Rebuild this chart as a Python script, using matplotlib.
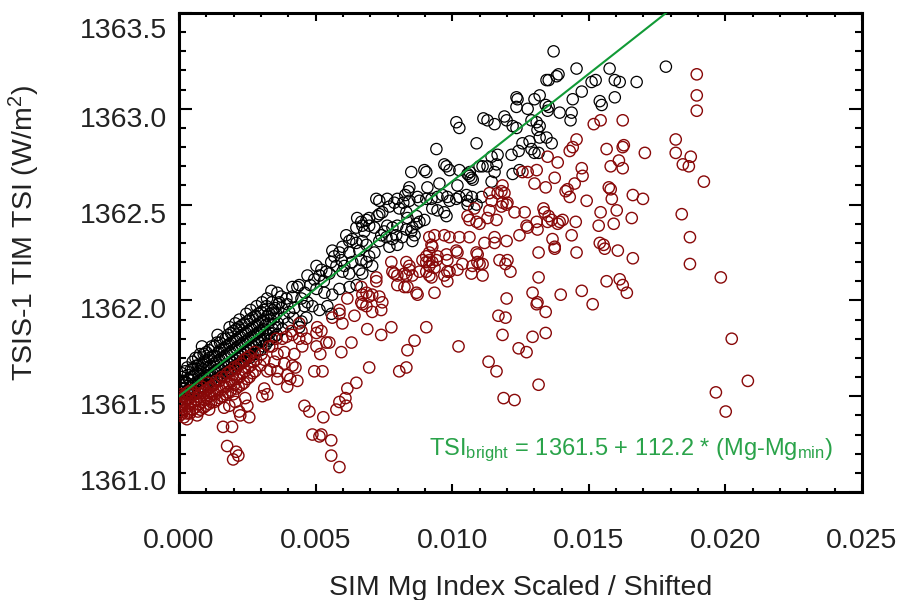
import numpy as np
import matplotlib.pyplot as plt
from matplotlib.ticker import MultipleLocator, FormatStrFormatter
from matplotlib.transforms import ScaledTranslation

plt.rcParams['font.family'] = ['Liberation Sans', 'DejaVu Sans']
plt.rcParams['mathtext.fontset'] = 'custom'
plt.rcParams['mathtext.rm'] = 'Liberation Sans'
plt.rcParams['mathtext.it'] = 'Liberation Sans:italic'

# fit line from the annotation
fit_intercept = 1361.5
fit_slope = 112.2

# (Mg index, TSI) pairs
# black points, sparse upper part
black_upper = np.array([
    [0.01371, 1363.30], [0.01455, 1363.21], [0.01389, 1363.18], [0.01382, 1363.17],
    [0.01353, 1363.15], [0.01345, 1363.15], [0.01576, 1363.21], [0.01782, 1363.22],
    [0.01510, 1363.14], [0.01525, 1363.15], [0.01595, 1363.15], [0.01613, 1363.14],
    [0.01675, 1363.14], [0.01235, 1363.06], [0.01239, 1363.05], [0.01235, 1363.01],
    [0.01301, 1363.05], [0.01320, 1363.07], [0.01276, 1363.00], [0.01342, 1363.02],
    [0.01349, 1362.99], [0.01353, 1363.01], [0.01393, 1362.98], [0.01437, 1362.98],
    [0.01433, 1362.94], [0.01441, 1363.05], [0.01474, 1363.09], [0.01540, 1363.04],
    [0.01547, 1363.02], [0.01595, 1363.06], [0.01114, 1362.95], [0.01129, 1362.94],
    [0.01155, 1362.92], [0.01191, 1362.96], [0.01199, 1362.94], [0.01221, 1362.91],
    [0.01235, 1362.90], [0.01290, 1362.94], [0.01309, 1362.93], [0.01320, 1362.91],
    [0.01312, 1362.89], [0.01320, 1362.85], [0.01089, 1362.82], [0.01217, 1362.76],
    [0.01243, 1362.78], [0.01257, 1362.82], [0.01283, 1362.83], [0.01290, 1362.79],
    [0.01301, 1362.77], [0.01316, 1362.77], [0.01364, 1362.82], [0.01345, 1362.85],
    [0.01111, 1362.70], [0.01100, 1362.70], [0.01129, 1362.70], [0.01162, 1362.71],
    [0.01166, 1362.76], [0.01144, 1362.75], [0.01221, 1362.66], [0.01246, 1362.68],
    [0.01155, 1362.67], [0.01144, 1362.62], [0.01108, 1362.54], [0.01072, 1362.54],
    [0.01075, 1362.63], [0.01064, 1362.67],
])

# black points, middle part
black_middle = np.array([
    [0.01015, 1362.93], [0.01026, 1362.90], [0.00942, 1362.79], [0.00971, 1362.71],
    [0.00979, 1362.70], [0.00990, 1362.68], [0.00850, 1362.67], [0.00898, 1362.68],
    [0.00905, 1362.67], [0.01026, 1362.68], [0.01056, 1362.66], [0.01070, 1362.64],
    [0.01063, 1362.65], [0.00953, 1362.61], [0.00909, 1362.59], [0.01019, 1362.60],
    [0.00843, 1362.59], [0.00839, 1362.57], [0.00828, 1362.55], [0.00843, 1362.52],
    [0.00799, 1362.53], [0.00821, 1362.51], [0.00873, 1362.54], [0.00880, 1362.52],
    [0.00722, 1362.53], [0.00733, 1362.52], [0.00762, 1362.53], [0.00770, 1362.49],
    [0.00788, 1362.51], [0.00806, 1362.48], [0.00905, 1362.53], [0.00924, 1362.53],
    [0.00946, 1362.54], [0.00964, 1362.55], [0.00982, 1362.54], [0.00990, 1362.52],
    [0.01015, 1362.53], [0.01026, 1362.54], [0.01052, 1362.55], [0.01056, 1362.52],
    [0.01056, 1362.50], [0.01089, 1362.50], [0.00927, 1362.48], [0.00946, 1362.47],
    [0.00979, 1362.44], [0.00971, 1362.46], [0.00733, 1362.45], [0.00726, 1362.44],
    [0.00744, 1362.46], [0.00832, 1362.46], [0.00836, 1362.43], [0.00869, 1362.44],
    [0.00880, 1362.41], [0.00898, 1362.42], [0.00869, 1362.40],
    [0.00652, 1362.43], [0.00667, 1362.41], [0.00686, 1362.42], [0.00696, 1362.43],
    [0.00671, 1362.39], [0.00649, 1362.38], [0.00678, 1362.36], [0.00696, 1362.39],
    [0.00715, 1362.38], [0.00751, 1362.36], [0.00762, 1362.39], [0.00781, 1362.38],
    [0.00799, 1362.39], [0.00832, 1362.37], [0.00850, 1362.36], [0.00854, 1362.38],
    [0.00862, 1362.34], [0.00854, 1362.31], [0.00817, 1362.33], [0.00799, 1362.29],
    [0.00781, 1362.32], [0.00770, 1362.28], [0.00733, 1362.31], [0.00740, 1362.34],
    [0.00795, 1362.34], [0.00759, 1362.33],
    [0.00612, 1362.34], [0.00623, 1362.31], [0.00634, 1362.32], [0.00649, 1362.30],
    [0.00671, 1362.31], [0.00686, 1362.29], [0.00660, 1362.26], [0.00623, 1362.25],
    [0.00598, 1362.28], [0.00587, 1362.25], [0.00561, 1362.26], [0.00568, 1362.23],
    [0.00594, 1362.21], [0.00605, 1362.18], [0.00634, 1362.20], [0.00667, 1362.21],
    [0.00686, 1362.20], [0.00696, 1362.23], [0.00715, 1362.25], [0.00707, 1362.18],
    [0.00660, 1362.16], [0.00671, 1362.14], [0.00623, 1362.14], [0.00598, 1362.15],
    [0.00576, 1362.18], [0.00557, 1362.20],
    [0.00503, 1362.18], [0.00521, 1362.16], [0.00539, 1362.15], [0.00514, 1362.13],
    [0.00495, 1362.11], [0.00415, 1362.07], [0.00440, 1362.08], [0.00433, 1362.07],
    [0.00503, 1362.06], [0.00532, 1362.04], [0.00561, 1362.03], [0.00587, 1362.06],
    [0.00624, 1362.07], [0.00650, 1362.08], [0.00338, 1362.05], [0.00360, 1362.04],
    [0.00374, 1362.02], [0.00393, 1362.01], [0.00367, 1361.99], [0.00415, 1362.02],
    [0.00448, 1362.01], [0.00470, 1361.99], [0.00459, 1361.97], [0.00488, 1361.97],
    [0.00514, 1361.95], [0.00543, 1361.97], [0.00558, 1361.93], [0.00466, 1361.91],
    [0.00448, 1361.89], [0.00440, 1361.86],
])

# black points, dense band near the origin
black_core = np.array([
    [0.00003, 1361.48], [0.00006, 1361.52], [0.00004, 1361.56], [0.00008, 1361.60],
    [0.00018, 1361.50], [0.00021, 1361.54], [0.00016, 1361.58], [0.00022, 1361.63],
    [0.00038, 1361.51], [0.00042, 1361.55], [0.00036, 1361.59], [0.00044, 1361.64],
    [0.00058, 1361.53], [0.00062, 1361.57], [0.00055, 1361.61], [0.00064, 1361.66],
    [0.00060, 1361.70], [0.00078, 1361.55], [0.00082, 1361.59], [0.00076, 1361.63],
    [0.00085, 1361.67], [0.00077, 1361.72], [0.00084, 1361.76], [0.00098, 1361.56],
    [0.00103, 1361.61], [0.00097, 1361.65], [0.00105, 1361.69], [0.00100, 1361.73],
    [0.00118, 1361.58], [0.00122, 1361.62], [0.00116, 1361.66], [0.00124, 1361.71],
    [0.00119, 1361.76], [0.00138, 1361.59], [0.00142, 1361.64], [0.00136, 1361.68],
    [0.00144, 1361.73], [0.00139, 1361.78], [0.00141, 1361.82], [0.00158, 1361.61],
    [0.00163, 1361.66], [0.00156, 1361.70], [0.00164, 1361.75], [0.00160, 1361.80],
    [0.00178, 1361.63], [0.00182, 1361.67], [0.00176, 1361.72], [0.00184, 1361.77],
    [0.00180, 1361.82], [0.00185, 1361.86], [0.00198, 1361.65], [0.00203, 1361.69],
    [0.00196, 1361.74], [0.00204, 1361.79], [0.00200, 1361.84], [0.00206, 1361.88],
    [0.00218, 1361.67], [0.00222, 1361.71], [0.00216, 1361.76], [0.00224, 1361.81],
    [0.00219, 1361.86], [0.00221, 1361.90], [0.00238, 1361.68], [0.00243, 1361.73],
    [0.00236, 1361.78], [0.00244, 1361.83], [0.00240, 1361.88], [0.00246, 1361.93],
    [0.00258, 1361.70], [0.00262, 1361.75], [0.00256, 1361.80], [0.00264, 1361.85],
    [0.00259, 1361.90], [0.00262, 1361.95], [0.00278, 1361.72], [0.00283, 1361.77],
    [0.00276, 1361.82], [0.00285, 1361.87], [0.00280, 1361.92], [0.00284, 1361.97],
    [0.00298, 1361.74], [0.00302, 1361.79], [0.00296, 1361.84], [0.00305, 1361.89],
    [0.00300, 1361.94], [0.00304, 1361.99], [0.00318, 1361.77], [0.00323, 1361.82],
    [0.00316, 1361.87], [0.00324, 1361.92], [0.00320, 1361.97], [0.00322, 1362.01],
    [0.00338, 1361.80], [0.00343, 1361.85], [0.00336, 1361.90], [0.00344, 1361.95],
    [0.00340, 1361.99], [0.00358, 1361.82], [0.00362, 1361.88], [0.00356, 1361.93],
    [0.00364, 1361.98], [0.00378, 1361.85], [0.00383, 1361.91], [0.00376, 1361.96],
    [0.00398, 1361.88], [0.00403, 1361.94], [0.00396, 1361.98], [0.00418, 1361.91],
    [0.00422, 1361.96], [0.00460, 1362.04], [0.00480, 1362.08], [0.00470, 1362.13],
    [0.00530, 1362.10], [0.00550, 1362.14],
])

# more black points filling the dense band
black_fill = np.array([
    [0.00011, 1361.50], [0.00009, 1361.54], [0.00012, 1361.58], [0.00010, 1361.62],
    [0.00029, 1361.49], [0.00031, 1361.53], [0.00028, 1361.57], [0.00032, 1361.61],
    [0.00030, 1361.65], [0.00049, 1361.52], [0.00052, 1361.56], [0.00048, 1361.60],
    [0.00051, 1361.64], [0.00050, 1361.68], [0.00069, 1361.54], [0.00072, 1361.58],
    [0.00068, 1361.62], [0.00071, 1361.66], [0.00070, 1361.70], [0.00089, 1361.55],
    [0.00092, 1361.60], [0.00088, 1361.64], [0.00091, 1361.68], [0.00090, 1361.72],
    [0.00109, 1361.57], [0.00112, 1361.61], [0.00108, 1361.65], [0.00111, 1361.70],
    [0.00110, 1361.74], [0.00129, 1361.58], [0.00132, 1361.63], [0.00128, 1361.67],
    [0.00131, 1361.71], [0.00130, 1361.76], [0.00149, 1361.60], [0.00152, 1361.64],
    [0.00148, 1361.69], [0.00151, 1361.74], [0.00150, 1361.78], [0.00169, 1361.62],
    [0.00172, 1361.66], [0.00168, 1361.71], [0.00171, 1361.76], [0.00170, 1361.80],
    [0.00189, 1361.64], [0.00192, 1361.68], [0.00188, 1361.73], [0.00191, 1361.78],
    [0.00190, 1361.83], [0.00209, 1361.66], [0.00212, 1361.70], [0.00208, 1361.75],
    [0.00211, 1361.80], [0.00210, 1361.85], [0.00229, 1361.68], [0.00232, 1361.72],
    [0.00228, 1361.77], [0.00231, 1361.82], [0.00230, 1361.87], [0.00249, 1361.70],
    [0.00252, 1361.74], [0.00248, 1361.79], [0.00251, 1361.84], [0.00250, 1361.89],
    [0.00269, 1361.72], [0.00272, 1361.76], [0.00268, 1361.81], [0.00271, 1361.86],
    [0.00270, 1361.91], [0.00289, 1361.74], [0.00292, 1361.78], [0.00288, 1361.83],
    [0.00291, 1361.88], [0.00290, 1361.93], [0.00309, 1361.76], [0.00312, 1361.80],
    [0.00308, 1361.85], [0.00311, 1361.90], [0.00310, 1361.95], [0.00329, 1361.79],
    [0.00332, 1361.83], [0.00328, 1361.88], [0.00331, 1361.93], [0.00349, 1361.81],
    [0.00352, 1361.86], [0.00348, 1361.91], [0.00351, 1361.96],
])

# dark red points, scattered
red_outer = np.array([
    [0.01895, 1363.18], [0.01895, 1363.07], [0.01895, 1362.99], [0.01818, 1362.84],
    [0.01818, 1362.77], [0.01873, 1362.75], [0.01844, 1362.71], [0.01866, 1362.70],
    [0.01921, 1362.62], [0.01840, 1362.45], [0.01870, 1362.33], [0.01870, 1362.19],
    [0.01983, 1362.12], [0.02023, 1361.80], [0.02082, 1361.58], [0.01965, 1361.52],
    [0.02001, 1361.42],
    [0.01089, 1362.25], [0.01093, 1362.24], [0.01074, 1362.18], [0.01100, 1362.19],
    [0.01111, 1362.19], [0.01111, 1362.13], [0.01173, 1362.21], [0.01202, 1362.21],
    [0.01195, 1362.19], [0.01213, 1362.15], [0.01316, 1362.25], [0.01375, 1362.27],
    [0.01455, 1362.25], [0.01558, 1362.27], [0.01606, 1362.26], [0.01661, 1362.22],
    [0.01316, 1362.12], [0.01199, 1362.01], [0.01294, 1362.04], [0.01397, 1362.03],
    [0.01474, 1362.05], [0.01565, 1362.10], [0.01613, 1362.11], [0.01624, 1362.08],
    [0.01639, 1362.04], [0.01514, 1361.98], [0.01309, 1361.98], [0.01312, 1361.99],
    [0.01342, 1361.94], [0.01169, 1361.92], [0.01195, 1361.91], [0.01184, 1361.82],
    [0.01294, 1361.81], [0.01342, 1361.83], [0.01243, 1361.75], [0.01272, 1361.73],
    [0.01133, 1361.68], [0.01162, 1361.63], [0.01316, 1361.56], [0.01188, 1361.49],
    [0.01228, 1361.48],
    [0.01518, 1362.92], [0.01543, 1362.94], [0.01624, 1362.94], [0.01455, 1362.84],
    [0.01441, 1362.80], [0.01430, 1362.78], [0.01565, 1362.79], [0.01624, 1362.80],
    [0.01628, 1362.81], [0.01705, 1362.77], [0.01349, 1362.75], [0.01386, 1362.72],
    [0.01610, 1362.73], [0.01580, 1362.70], [0.01624, 1362.69], [0.01474, 1362.69],
    [0.01477, 1362.65], [0.01375, 1362.64], [0.01342, 1362.59], [0.01257, 1362.67],
    [0.01309, 1362.68], [0.01301, 1362.61], [0.01276, 1362.67], [0.01184, 1362.60],
    [0.01180, 1362.57], [0.01191, 1362.56], [0.01166, 1362.56], [0.01136, 1362.56],
    [0.01144, 1362.52], [0.01136, 1362.47], [0.01129, 1362.43], [0.01162, 1362.42],
    [0.01184, 1362.51], [0.01199, 1362.50], [0.01202, 1362.51], [0.01180, 1362.49],
    [0.01081, 1362.48], [0.01063, 1362.42], [0.01100, 1362.40], [0.01228, 1362.46],
    [0.01265, 1362.46], [0.01334, 1362.48], [0.01338, 1362.46], [0.01353, 1362.44],
    [0.01415, 1362.57], [0.01422, 1362.58], [0.01430, 1362.54], [0.01448, 1362.61],
    [0.01492, 1362.52], [0.01573, 1362.59], [0.01580, 1362.58], [0.01584, 1362.53],
    [0.01661, 1362.55], [0.01698, 1362.53], [0.01543, 1362.46], [0.01602, 1362.47],
    [0.01591, 1362.40], [0.01657, 1362.43], [0.01272, 1362.39], [0.01276, 1362.38],
    [0.01309, 1362.41], [0.01312, 1362.37], [0.01349, 1362.41], [0.01386, 1362.40],
    [0.01393, 1362.41], [0.01404, 1362.42], [0.01364, 1362.42], [0.01452, 1362.41],
    [0.01246, 1362.34], [0.01199, 1362.31], [0.01155, 1362.33], [0.01118, 1362.30],
    [0.01155, 1362.30], [0.01536, 1362.39], [0.01437, 1362.34], [0.01367, 1362.32],
    [0.01375, 1362.28], [0.01540, 1362.30], [0.01554, 1362.29],
    [0.01056, 1362.44], [0.01089, 1362.41], [0.00935, 1362.34], [0.00916, 1362.33],
    [0.00971, 1362.34], [0.00990, 1362.33], [0.01026, 1362.33], [0.01063, 1362.33],
    [0.01019, 1362.25], [0.01015, 1362.26], [0.00924, 1362.29], [0.00927, 1362.28],
    [0.00916, 1362.25], [0.00905, 1362.23], [0.00916, 1362.21], [0.00927, 1362.20],
    [0.00942, 1362.21], [0.00905, 1362.20], [0.00891, 1362.21], [0.00916, 1362.18],
    [0.00935, 1362.17], [0.00946, 1362.23], [0.00979, 1362.24], [0.00982, 1362.21],
    [0.00990, 1362.15], [0.00971, 1362.13], [0.01037, 1362.19], [0.01070, 1362.14],
    [0.01092, 1362.20], [0.00832, 1362.20], [0.00843, 1362.18], [0.00880, 1362.15],
    [0.00854, 1362.13], [0.00832, 1362.13], [0.00777, 1362.20], [0.00781, 1362.15],
    [0.00788, 1362.14], [0.00799, 1362.13], [0.00722, 1362.12],
    [0.00825, 1362.14], [0.00843, 1362.16], [0.00905, 1362.15], [0.00916, 1362.13],
    [0.00924, 1362.12], [0.00982, 1362.15], [0.00982, 1362.10], [0.01019, 1362.16],
    [0.00722, 1362.10], [0.00799, 1362.08], [0.00825, 1362.07], [0.00836, 1362.07],
    [0.00869, 1362.04], [0.00873, 1362.03], [0.00935, 1362.04], [0.00667, 1362.07],
    [0.00671, 1362.03], [0.00686, 1362.04], [0.00696, 1362.02], [0.00707, 1362.03],
    [0.00733, 1362.02], [0.00744, 1361.99], [0.00740, 1361.95], [0.00707, 1361.94],
    [0.00686, 1361.97], [0.00671, 1361.98], [0.00667, 1361.99], [0.00616, 1362.01],
    [0.00642, 1361.92], [0.00587, 1361.95], [0.00587, 1361.93], [0.00561, 1361.91],
    [0.00598, 1361.88], [0.00689, 1361.85], [0.00740, 1361.82], [0.00777, 1361.86],
    [0.00905, 1361.86], [0.00631, 1361.78], [0.00594, 1361.73], [0.00550, 1361.78],
    [0.00862, 1361.79], [0.00836, 1361.74], [0.01023, 1361.76], [0.00696, 1361.65],
    [0.00806, 1361.63], [0.00832, 1361.65], [0.00649, 1361.57], [0.00616, 1361.54],
    [0.00609, 1361.49], [0.00587, 1361.47], [0.00612, 1361.45], [0.00576, 1361.43],
    [0.00557, 1361.27], [0.00557, 1361.19], [0.00587, 1361.13],
    [0.00539, 1361.78], [0.00506, 1361.86], [0.00521, 1361.84], [0.00503, 1361.83],
    [0.00440, 1361.88], [0.00448, 1361.84], [0.00411, 1361.84], [0.00415, 1361.82],
    [0.00393, 1361.81], [0.00378, 1361.80], [0.00356, 1361.80], [0.00341, 1361.76],
    [0.00330, 1361.76], [0.00440, 1361.80], [0.00466, 1361.80], [0.00451, 1361.76],
    [0.00503, 1361.76],
    [0.00517, 1361.72], [0.00422, 1361.72], [0.00385, 1361.73], [0.00360, 1361.72],
    [0.00349, 1361.68], [0.00334, 1361.64], [0.00360, 1361.63], [0.00323, 1361.63],
    [0.00312, 1361.69], [0.00385, 1361.67], [0.00396, 1361.61], [0.00407, 1361.59],
    [0.00426, 1361.65], [0.00415, 1361.66], [0.00495, 1361.63], [0.00525, 1361.63],
    [0.00360, 1361.59], [0.00396, 1361.55], [0.00433, 1361.58], [0.00312, 1361.54],
    [0.00305, 1361.50], [0.00323, 1361.51],
    [0.00040, 1361.41], [0.00066, 1361.40], [0.00029, 1361.38], [0.00011, 1361.41],
    [0.00110, 1361.43], [0.00165, 1361.44], [0.00184, 1361.45], [0.00206, 1361.47],
    [0.00220, 1361.42], [0.00224, 1361.40], [0.00257, 1361.39], [0.00250, 1361.45],
    [0.00242, 1361.49], [0.00459, 1361.45], [0.00477, 1361.42], [0.00528, 1361.39],
    [0.00488, 1361.30], [0.00514, 1361.29], [0.00521, 1361.30], [0.00161, 1361.34],
    [0.00194, 1361.34], [0.00176, 1361.24], [0.00209, 1361.21], [0.00217, 1361.19],
    [0.00198, 1361.17],
])

# dark red points, dense group near the origin
red_core = np.array([
    [0.00003, 1361.40], [0.00006, 1361.44], [0.00004, 1361.48], [0.00008, 1361.51],
    [0.00018, 1361.39], [0.00022, 1361.43], [0.00017, 1361.47], [0.00021, 1361.50],
    [0.00038, 1361.42], [0.00042, 1361.46], [0.00037, 1361.49], [0.00043, 1361.53],
    [0.00058, 1361.44], [0.00062, 1361.48], [0.00057, 1361.52], [0.00078, 1361.43],
    [0.00082, 1361.47], [0.00077, 1361.51], [0.00083, 1361.55], [0.00098, 1361.45],
    [0.00102, 1361.49], [0.00097, 1361.53], [0.00104, 1361.57], [0.00118, 1361.47],
    [0.00122, 1361.51], [0.00117, 1361.55], [0.00138, 1361.48], [0.00142, 1361.53],
    [0.00137, 1361.58], [0.00158, 1361.50], [0.00162, 1361.55], [0.00157, 1361.60],
    [0.00178, 1361.52], [0.00182, 1361.57], [0.00177, 1361.62], [0.00198, 1361.51],
    [0.00202, 1361.56], [0.00197, 1361.61], [0.00203, 1361.65], [0.00218, 1361.55],
    [0.00222, 1361.60], [0.00217, 1361.66], [0.00238, 1361.57], [0.00242, 1361.63],
    [0.00237, 1361.69], [0.00258, 1361.60], [0.00262, 1361.66], [0.00257, 1361.71],
    [0.00278, 1361.63], [0.00282, 1361.69], [0.00277, 1361.73], [0.00298, 1361.66],
    [0.00302, 1361.72],
    [0.00011, 1361.42], [0.00009, 1361.46], [0.00012, 1361.50], [0.00029, 1361.41],
    [0.00031, 1361.45], [0.00028, 1361.48], [0.00032, 1361.52], [0.00049, 1361.43],
    [0.00052, 1361.47], [0.00048, 1361.51], [0.00069, 1361.42], [0.00072, 1361.46],
    [0.00068, 1361.50], [0.00071, 1361.54], [0.00089, 1361.44], [0.00092, 1361.48],
    [0.00088, 1361.52], [0.00109, 1361.46], [0.00112, 1361.50], [0.00108, 1361.54],
    [0.00129, 1361.47], [0.00132, 1361.51], [0.00128, 1361.56], [0.00149, 1361.49],
    [0.00152, 1361.53], [0.00148, 1361.58], [0.00169, 1361.51], [0.00172, 1361.55],
    [0.00168, 1361.60], [0.00189, 1361.53], [0.00192, 1361.58], [0.00188, 1361.63],
    [0.00209, 1361.54], [0.00212, 1361.59], [0.00208, 1361.64], [0.00229, 1361.56],
    [0.00232, 1361.62], [0.00228, 1361.67], [0.00249, 1361.59], [0.00252, 1361.65],
    [0.00248, 1361.70], [0.00269, 1361.62], [0.00272, 1361.68],
])

black = np.vstack([black_upper, black_middle, black_core, black_fill])
red = np.vstack([red_outer, red_core])

fig = plt.figure(figsize=(9.02, 6.0), dpi=100)
ax = fig.add_axes([0.1985, 0.18, 0.7572, 0.7983])

ax.scatter(black[:, 0], black[:, 1], s=66, facecolors='none', edgecolors='black', linewidths=0.9, zorder=2)
ax.scatter(red[:, 0], red[:, 1], s=66, facecolors='none', edgecolors='#880808', linewidths=1.0, zorder=3)

xlim = (0.0, 0.025)
xfit = np.array(xlim)
ax.plot(xfit, fit_intercept + fit_slope * xfit, color='#119a36', lw=1.5, zorder=4)

ax.set_xlim(*xlim)
ax.set_ylim(1361.0, 1363.5)
ax.xaxis.set_major_locator(MultipleLocator(0.005))
ax.xaxis.set_minor_locator(MultipleLocator(0.001))
ax.yaxis.set_major_locator(MultipleLocator(0.5))
ax.yaxis.set_minor_locator(MultipleLocator(0.1))
ax.xaxis.set_major_formatter(FormatStrFormatter('%.3f'))
ax.yaxis.set_major_formatter(FormatStrFormatter('%.1f'))

ax.tick_params(which='both', direction='in', top=True, right=True, width=1.5, colors='black', labelcolor='#222222')
ax.tick_params(axis='y', which='major', length=9.5, pad=8.5, labelsize=20.5)
ax.tick_params(axis='y', which='minor', length=5)
ax.tick_params(axis='x', which='major', length=6, pad=26, labelsize=20.5)
ax.tick_params(axis='x', which='minor', length=3)
for sp in ax.spines.values():
    sp.set_linewidth(2.2)

# y labels sit a bit lower than their ticks, end ones pulled inside
fig.canvas.draw()
shifts_px = {1361.0: 12, 1363.5: -15}
for tick in ax.yaxis.get_major_ticks():
    lab = tick.label1
    val = round(tick.get_loc(), 1)
    dy = shifts_px.get(val, -8)
    lab.set_transform(lab.get_transform() + ScaledTranslation(0, dy / 100, fig.dpi_scale_trans))

ax.set_xlabel('SIM Mg Index Scaled / Shifted', fontsize=20.5, color='#222222')
ax.xaxis.set_label_coords(0.5, -0.173)
ax.set_ylabel('TSIS-1 TIM TSI (W/m$^2$)', fontsize=20.5, color='#222222')
ax.yaxis.set_label_coords(-0.2006, 0.541)

ax.text(0.9575, 0.0772, r'TSI$_{\mathrm{bright}}$ = 1361.5 + 112.2 * (Mg-Mg$_{\mathrm{min}}$)',
        transform=ax.transAxes, ha='right', va='baseline', fontsize=17, color='#2aa34a')

fig.savefig('out.png', dpi=100)
